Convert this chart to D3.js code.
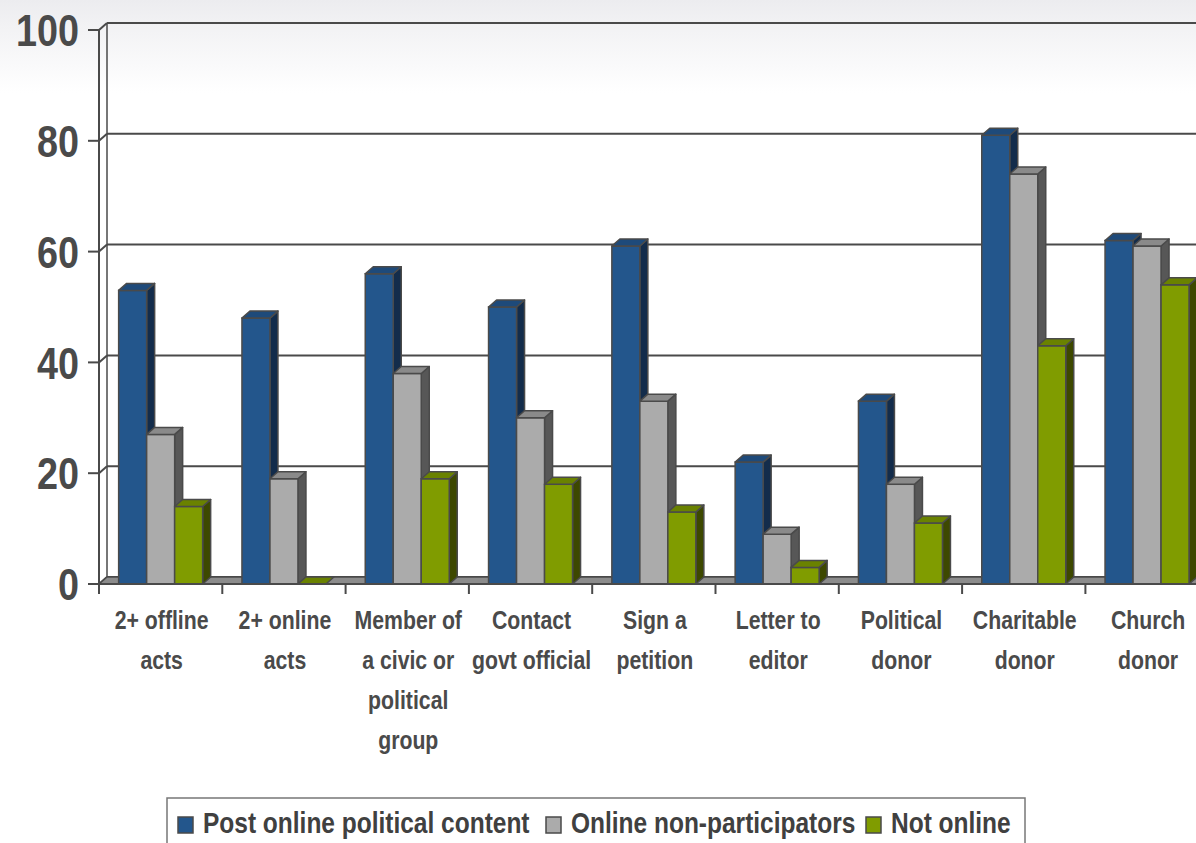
<!DOCTYPE html>
<html><head><meta charset="utf-8">
<script src="https://cdn.jsdelivr.net/npm/d3@7"></script>
<style>
html,body{margin:0;padding:0;background:#fff;}
svg{display:block;}
text{font-family:"Liberation Sans",Arial,sans-serif;font-weight:bold;}
</style></head>
<body>
<svg id="chart" width="1196" height="843"></svg>
<script>
const categories = [
  ["2+ offline","acts"],
  ["2+ online","acts"],
  ["Member of","a civic or","political","group"],
  ["Contact","govt official"],
  ["Sign a","petition"],
  ["Letter to","editor"],
  ["Political","donor"],
  ["Charitable","donor"],
  ["Church","donor"]
];
const seriesNames = ["Post online political content","Online non-participators","Not online"];
const postOnline   = [53, 48, 56, 50, 61, 22, 33, 81, 62];
const nonPartic    = [27, 19, 38, 30, 33,  9, 18, 74, 61];
const notOnline    = [14,  0, 19, 18, 13,  3, 11, 43, 54];
const yTicks = [0, 20, 40, 60, 80, 100];

const series = [postOnline, nonPartic, notOnline];
const colors = [
  {front:"#23568c", side:"#132c4b", top:"#1e4a7a"},
  {front:"#ababab", side:"#575757", top:"#8a8a8a"},
  {front:"#809c00", side:"#3d4800", top:"#6a8200"}
];
const stroke = "#4a4a4a";

const svg = d3.select("#chart");
const defs = svg.append("defs");
const grad = defs.append("linearGradient").attr("id","bg").attr("x1",0).attr("y1",0).attr("x2",0).attr("y2",1);
grad.append("stop").attr("offset","0").attr("stop-color","#ececef");
grad.append("stop").attr("offset","0.03").attr("stop-color","#f2f2f4");
grad.append("stop").attr("offset","0.08").attr("stop-color","#fafafb");
grad.append("stop").attr("offset","0.11").attr("stop-color","#ffffff");
grad.append("stop").attr("offset","1").attr("stop-color","#ffffff");
svg.append("rect").attr("width",1196).attr("height",843).attr("fill","url(#bg)");

function narrow(parent, px, py, str, size, anchor, sx, fill, dy) {
  const t = parent.append("text")
    .attr("transform", `translate(${px},${py}) scale(${sx},1)`)
    .attr("text-anchor", anchor).attr("font-size", size).attr("fill", fill).text(str);
  if (dy) t.attr("dy", dy);
  return t;
}

const x0 = 99, bandW = 123.3;
const catIdx = d3.range(categories.length);
const x = d3.scaleBand().domain(catIdx).range([x0, x0 + bandW*categories.length]).paddingInner(0).paddingOuter(0);
const y = d3.scaleLinear().domain([0,100]).range([584, 30]);
const dx = 8, dy = -7;
const barW = 28, groupOff = (bandW - 3*barW)/2;

// back wall gridlines
const g = svg.append("g");
yTicks.forEach(t => {
  g.append("line").attr("x1",x0+dx).attr("x2",1196).attr("y1",y(t)+dy).attr("y2",y(t)+dy)
    .attr("stroke",stroke).attr("stroke-width",2);
  g.append("line").attr("x1",x0).attr("x2",x0+dx).attr("y1",y(t)).attr("y2",y(t)+dy)
    .attr("stroke",stroke).attr("stroke-width",2);
});
g.append("line").attr("x1",x0+dx).attr("x2",x0+dx).attr("y1",y(100)+dy).attr("y2",y(0)+dy)
  .attr("stroke",stroke).attr("stroke-width",1.5);

// floor
const xEnd = x0 + bandW*categories.length;
g.append("polygon")
  .attr("points",[[x0,y(0)],[xEnd,y(0)],[xEnd+dx,y(0)+dy],[x0+dx,y(0)+dy]].map(p=>p.join(",")).join(" "))
  .attr("fill","#8c8c8c").attr("stroke",stroke).attr("stroke-width",1.5);

// bars
const bars = svg.append("g");
catIdx.forEach(ci => {
  series.forEach((s, si) => {
    const v = s[ci];
    const bx = x(ci) + groupOff + si*barW;
    const top = y(v), bot = y(0);
    const c = colors[si];
    const bg = bars.append("g");
    if (v > 0) {
      bg.append("polygon")
        .attr("points",[[bx+barW,top],[bx+barW+dx,top+dy],[bx+barW+dx,bot+dy],[bx+barW,bot]].map(p=>p.join(",")).join(" "))
        .attr("fill",c.side).attr("stroke",stroke).attr("stroke-width",1.5).attr("stroke-linejoin","round");
      bg.append("rect").attr("x",bx).attr("y",top).attr("width",barW).attr("height",bot-top)
        .attr("fill",c.front).attr("stroke",stroke).attr("stroke-width",1.5);
    }
    bg.append("polygon")
      .attr("points",[[bx,top],[bx+dx,top+dy],[bx+barW+dx,top+dy],[bx+barW,top]].map(p=>p.join(",")).join(" "))
      .attr("fill",c.top).attr("stroke",stroke).attr("stroke-width",1.5).attr("stroke-linejoin","round");
  });
});

// front axes
const ax = svg.append("g");
ax.append("line").attr("x1",x0).attr("x2",x0).attr("y1",y(100)).attr("y2",y(0)+9).attr("stroke",stroke).attr("stroke-width",2);
ax.append("line").attr("x1",x0).attr("x2",1196).attr("y1",y(0)).attr("y2",y(0)).attr("stroke",stroke).attr("stroke-width",2);
yTicks.forEach(t => {
  ax.append("line").attr("x1",88).attr("x2",x0).attr("y1",y(t)).attr("y2",y(t)).attr("stroke",stroke).attr("stroke-width",2);
  narrow(ax, 79, y(t), String(t), 45, "end", 0.84, "#4a4a4a", "0.36em");
});
catIdx.concat([categories.length]).forEach(i => {
  const xx = x0 + bandW*i;
  ax.append("line").attr("x1",xx).attr("x2",xx).attr("y1",y(0)).attr("y2",y(0)+10).attr("stroke",stroke).attr("stroke-width",2);
});
catIdx.forEach(ci => {
  const cx = x(ci) + x.bandwidth()/2 + 1;
  categories[ci].forEach((ln, li) => {
    narrow(ax, cx, 629 + li*40, ln, 25, "middle", 0.85, "#4a4a4a");
  });
});

// legend
const lg = svg.append("g");
lg.append("rect").attr("x",167).attr("y",798).attr("width",858).attr("height",60)
  .attr("fill","#fff").attr("stroke","#777").attr("stroke-width",1.5);
const legX = [178, 546, 866];
seriesNames.forEach((n, i) => {
  lg.append("rect").attr("x",legX[i]).attr("y",817).attr("width",15).attr("height",16)
    .attr("fill",colors[i].front).attr("stroke",stroke).attr("stroke-width",1.5);
  narrow(lg, legX[i]+25, 833, n, 29, "start", 0.845, "#404040");
});
</script>
</body></html>
